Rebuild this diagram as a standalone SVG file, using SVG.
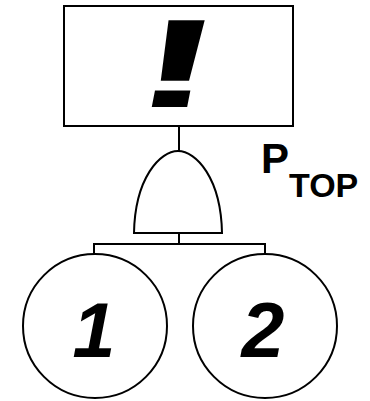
<svg xmlns="http://www.w3.org/2000/svg" width="370" height="401" viewBox="0 0 370 401">
<style>
.ln{fill:none;stroke:#000;stroke-width:2}
.sh{fill:#fff;stroke:#000;stroke-width:2}
.big{font-family:"Liberation Sans",Arial,sans-serif;font-weight:bold;font-style:italic;fill:#000}
.lbl{font-family:"Liberation Sans",Arial,sans-serif;font-weight:bold;fill:#000}
</style>
<rect width="370" height="401" fill="#fff"/>
<g id="connectors">
<path class="ln" d="M179,126 V151"/>
<path class="ln" d="M179,233 V244 M94,254 V244 H265 V254"/>
</g>
<g id="top-event">
<rect class="sh" x="64" y="6" width="229" height="120"/>
<text class="lbl" x="0" y="0" font-size="126" text-anchor="middle" transform="translate(170,107) skewX(-11) scale(2.0,1)">!</text>
</g>
<g id="and-gate">
<path class="sh" d="M134,233 C135,178 160,151 178,151 C196,151 221,178 222,233 Z"/>
<text class="lbl" x="261" y="173" font-size="42">P</text>
<text class="lbl" x="289" y="197" font-size="34">TOP</text>
</g>
<g id="event-1">
<circle class="sh" cx="95" cy="326" r="72"/>
<text class="big" x="94" y="357" font-size="77" text-anchor="middle">1</text>
</g>
<g id="event-2">
<circle class="sh" cx="265" cy="326" r="72"/>
<text class="big" x="263" y="357" font-size="77" text-anchor="middle">2</text>
</g>
</svg>
